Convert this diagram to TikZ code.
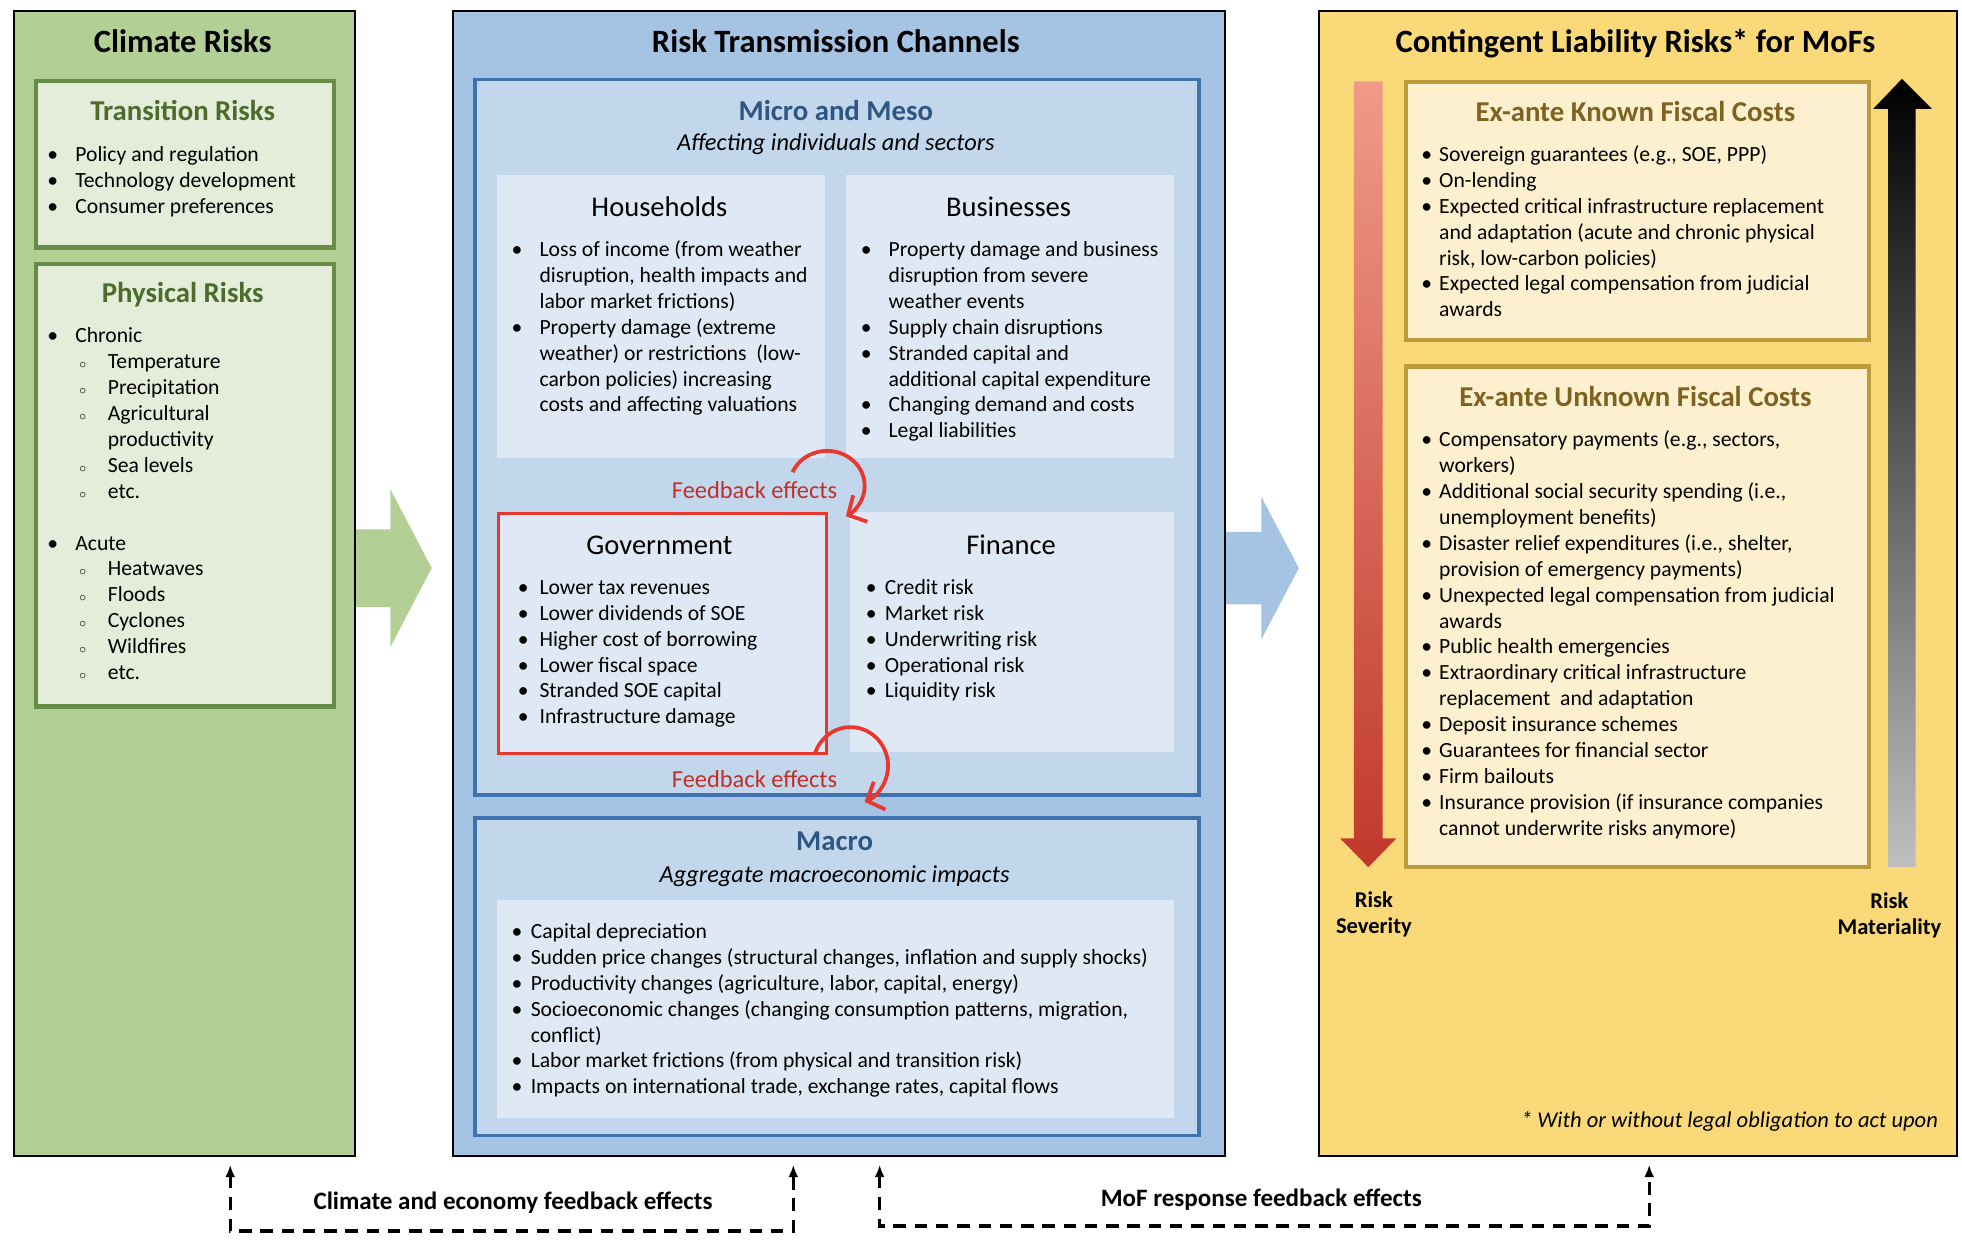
\documentclass[tikz,border=0pt]{standalone}
\usepackage{fontspec}
\setmainfont{Carlito}
\usetikzlibrary{arrows.meta,calc}

\definecolor{gpanel}{HTML}{B2CF95}
\definecolor{ginner}{HTML}{E3EDD9}
\definecolor{gborder}{HTML}{668C46}
\definecolor{gtitle}{HTML}{4C6B2C}
\definecolor{bpanel}{HTML}{A5C3E2}
\definecolor{binner}{HTML}{C2D7EC}
\definecolor{bborder}{HTML}{3F72AF}
\definecolor{bcell}{HTML}{DFE9F5}
\definecolor{btitle}{HTML}{2F5582}
\definecolor{fbred}{HTML}{E8382D}
\definecolor{fbtext}{HTML}{C0302A}
\definecolor{ypanel}{HTML}{F9D978}
\definecolor{yinner}{HTML}{FDF0CE}
\definecolor{yborder}{HTML}{BF9A3B}
\definecolor{ytitle}{HTML}{7E6222}
\definecolor{sevtop}{HTML}{F09A88}
\definecolor{sevbot}{HTML}{C0392B}

\newlength{\bd}
\newcommand{\itm}{\llap{\makebox[0pt][c]{\textbullet}\hspace{\bd}}}
\newcommand{\sitm}{\hspace*{26pt}\llap{\makebox[0pt][c]{\fontsize{11}{11}\selectfont$\circ$}\hspace{20pt}}}
\newcommand{\bodyf}{\fontsize{17.3}{20.7}\selectfont}
\newcommand{\mainf}{\fontsize{26}{30}\selectfont\bfseries}
\newcommand{\subf}{\fontsize{23}{27}\selectfont\bfseries}
\newcommand{\cellf}{\fontsize{22.8}{27}\selectfont}
\newcommand{\subtf}{\fontsize{19.5}{23}\selectfont\itshape}
\newcommand{\labf}{\fontsize{20}{24}\selectfont\bfseries}

\begin{document}
\begin{tikzpicture}[x=1pt,y=-1pt,
  panel/.style={draw=black, line width=1.8pt, anchor=north west, inner sep=0pt},
  gbox/.style={draw=gborder, fill=ginner, line width=3.5pt, anchor=north west, inner sep=0pt},
  bbox/.style={draw=bborder, fill=binner, line width=3pt, anchor=north west, inner sep=0pt},
  cell/.style={fill=bcell, anchor=north west, inner sep=0pt},
  ybox/.style={draw=yborder, fill=yinner, line width=3.5pt, anchor=north west, inner sep=0pt},
  lst/.style={anchor=base west, inner sep=0pt, font=\bodyf},
  ttl/.style={anchor=base, inner sep=0pt},
  fb/.style={draw=fbred, line width=3pt, -{Straight Barb[length=11pt,width=24pt,line width=3pt]}},
  dashcon/.style={line width=2.5pt, dash pattern=on 10pt off 7pt, {Latex[length=10pt,width=8pt]}-{Latex[length=10pt,width=8pt]}}
]
\useasboundingbox (0,0) rectangle (1568,992.6);

% ---------- block arrows ----------
\path[fill=gpanel] (280,423) -- (312,423) -- (312,391) -- (345,454) -- (312,517) -- (312,485) -- (280,485) -- cycle;
\path[fill=bpanel] (975,425) -- (1008,425) -- (1008,397) -- (1038,454) -- (1008,511) -- (1008,483) -- (975,483) -- cycle;

% ---------- panels ----------
\node[panel, fill=gpanel, minimum width=273pt, minimum height=915pt] (green) at (10,8) {};
\node[panel, fill=bpanel, minimum width=617pt, minimum height=915pt] (blue) at (361,8) {};
\node[panel, fill=ypanel, minimum width=510pt, minimum height=915pt] (yellow) at (1053,8) {};

\node[ttl, font=\mainf] (t1) at (146,42) {Climate Risks};
\node[ttl, font=\mainf] (t2) at (668,42) {Risk Transmission Channels};
\node[ttl, font=\mainf] (t3) at (1307,42) {Contingent Liability Risks* for MoFs};

% ---------- Climate risks ----------
\node[gbox, minimum width=238pt, minimum height=133pt] (trans) at (27,63) {};
\node[ttl, font=\subf, text=gtitle] (transT) at (146,96) {Transition Risks};
\setlength{\bd}{18pt}
\node[lst] (transL) at (60,129) {\begin{tabular}[t]{@{}l@{}}
\itm Policy and regulation\\
\itm Technology development\\
\itm Consumer preferences
\end{tabular}};

\node[gbox, minimum width=238pt, minimum height=354pt] (phys) at (27,209) {};
\node[ttl, font=\subf, text=gtitle] (physT) at (146,242) {Physical Risks};
\node[lst] (physL) at (60,274) {\begin{tabular}[t]{@{}l@{}}
\itm Chronic\\
\sitm Temperature\\
\sitm Precipitation\\
\sitm Agricultural\\
\hspace*{26pt}productivity\\
\sitm Sea levels\\
\sitm etc.\\
\\
\itm Acute\\
\sitm Heatwaves\\
\sitm Floods\\
\sitm Cyclones\\
\sitm Wildfires\\
\sitm etc.
\end{tabular}};

% ---------- Transmission channels ----------
\node[bbox, minimum width=579pt, minimum height=572pt] (micro) at (378,62) {};
\node[ttl, font=\subf, text=btitle] (microT) at (668,96) {Micro and Meso};
\node[ttl, font=\subtf] (microS) at (668,120) {Affecting individuals and sectors};

\node[cell, minimum width=262pt, minimum height=226pt] (hh) at (397,140) {};
\node[ttl, font=\cellf] (hhT) at (527,173) {Households};
\setlength{\bd}{18pt}
\node[lst] (hhL) at (431,205) {\begin{tabular}[t]{@{}l@{}}
\itm Loss of income (from weather\\
disruption, health impacts and\\
labor market frictions)\\
\itm Property damage (extreme\\
weather) or restrictions~ (low-\\
carbon policies) increasing\\
costs and affecting valuations
\end{tabular}};

\node[cell, minimum width=262pt, minimum height=226pt] (bus) at (676,140) {};
\node[ttl, font=\cellf] (busT) at (806,173) {Businesses};
\node[lst] (busL) at (710,205) {\begin{tabular}[t]{@{}l@{}}
\itm Property damage and business\\
disruption from severe\\
weather events\\
\itm Supply chain disruptions\\
\itm Stranded capital and\\
additional capital expenditure\\
\itm Changing demand and costs\\
\itm Legal liabilities
\end{tabular}};

\node[cell, draw=fbred, line width=2.5pt, minimum width=262pt, minimum height=192pt] (gov) at (397,409) {};
\node[ttl, font=\cellf] (govT) at (527,443) {Government};
\setlength{\bd}{13pt}
\node[lst] (govL) at (431,475) {\begin{tabular}[t]{@{}l@{}}
\itm Lower tax revenues\\
\itm Lower dividends of SOE\\
\itm Higher cost of borrowing\\
\itm Lower fiscal space\\
\itm Stranded SOE capital\\
\itm Infrastructure damage
\end{tabular}};

\node[cell, minimum width=259pt, minimum height=192pt] (fin) at (679,409) {};
\node[ttl, font=\cellf] (finT) at (808,443) {Finance};
\setlength{\bd}{11pt}
\node[lst] (finL) at (707,475) {\begin{tabular}[t]{@{}l@{}}
\itm Credit risk\\
\itm Market risk\\
\itm Underwriting risk\\
\itm Operational risk\\
\itm Liquidity risk
\end{tabular}};

% feedback arrows
\node[ttl, font=\fontsize{19.5}{23}\selectfont, text=fbtext] (fbT1) at (603,398) {Feedback effects};
\node[ttl, font=\fontsize{19.5}{23}\selectfont, text=fbtext] (fbT2) at (603,629) {Feedback effects};
\coordinate (fb1s) at ($(hh.south east)+(-26,11)$);
\coordinate (fb2s) at ($(gov.south east)+(-10,-2)$);
\draw[fb] (fb1s) arc[start angle=-157, end angle=60, x radius=30, y radius=28];
\draw[fb] (fb2s) arc[start angle=-160, end angle=68, x radius=30, y radius=31];

% Macro
\node[bbox, minimum width=579pt, minimum height=254pt] (macro) at (378,652) {};
\node[ttl, font=\subf, text=btitle] (macroT) at (667,680) {Macro};
\node[ttl, font=\subtf] (macroS) at (667,705) {Aggregate macroeconomic impacts};
\node[cell, minimum width=541pt, minimum height=174pt] (macroC) at (397,719) {};
\setlength{\bd}{11pt}
\node[lst] (macroL) at (424,750) {\begin{tabular}[t]{@{}l@{}}
\itm Capital depreciation\\
\itm Sudden price changes (structural changes, inflation and supply shocks)\\
\itm Productivity changes (agriculture, labor, capital, energy)\\
\itm Socioeconomic changes (changing consumption patterns, migration,\\
conflict)\\
\itm Labor market frictions (from physical and transition risk)\\
\itm Impacts on international trade, exchange rates, capital flows
\end{tabular}};

% ---------- Contingent liabilities ----------
\shade[top color=sevtop, bottom color=sevbot] (1082,65) -- (1105,65) -- (1105,670) -- (1116,670) -- (1093.5,693) -- (1071,670) -- (1082,670) -- cycle;
\shade[top color=black, bottom color=black!25] (1520,63) -- (1544,87) -- (1531,87) -- (1531,693) -- (1509,693) -- (1509,87) -- (1497,87) -- cycle;

\node[ybox, minimum width=370pt, minimum height=206pt] (known) at (1122,64) {};
\node[ttl, font=\subf, text=ytitle] (knownT) at (1307,97) {Ex-ante Known Fiscal Costs};
\setlength{\bd}{10pt}
\node[lst] (knownL) at (1150,129) {\begin{tabular}[t]{@{}l@{}}
\itm Sovereign guarantees (e.g., SOE, PPP)\\
\itm On-lending\\
\itm Expected critical infrastructure replacement\\
and adaptation (acute and chronic physical\\
risk, low-carbon policies)\\
\itm Expected legal compensation from judicial\\
awards
\end{tabular}};

\node[ybox, minimum width=370pt, minimum height=400pt] (unknown) at (1122,291) {};
\node[ttl, font=\subf, text=ytitle] (unknownT) at (1307,325) {Ex-ante Unknown Fiscal Costs};
\node[lst] (unknownL) at (1150,357) {\begin{tabular}[t]{@{}l@{}}
\itm Compensatory payments (e.g., sectors,\\
workers)\\
\itm Additional social security spending (i.e.,\\
unemployment benefits)\\
\itm Disaster relief expenditures (i.e., shelter,\\
provision of emergency payments)\\
\itm Unexpected legal compensation from judicial\\
awards\\
\itm Public health emergencies\\
\itm Extraordinary critical infrastructure\\
replacement~ and adaptation\\
\itm Deposit insurance schemes\\
\itm Guarantees for financial sector\\
\itm Firm bailouts\\
\itm Insurance provision (if insurance companies\\
cannot underwrite risks anymore)
\end{tabular}};

\node[anchor=base, inner sep=0pt, font=\fontsize{18}{20.7}\selectfont\bfseries, align=center] (sev) at (1098,746) {Risk\\Severity};
\node[anchor=base, inner sep=0pt, font=\fontsize{18}{20.7}\selectfont\bfseries, align=center] (mat) at (1510,747) {Risk\\Materiality};
\node[anchor=base east, inner sep=0pt, font=\fontsize{18}{22}\selectfont\itshape] (note) at (1549,901) {* With or without legal obligation to act upon};

% ---------- bottom feedback connectors ----------
\coordinate (c1a) at ($(green.south west)+(174,6)$);
\coordinate (c1b) at ($(blue.south west)+(273,6)$);
\coordinate (c2a) at ($(blue.south west)+(342,6)$);
\coordinate (c2b) at ($(yellow.south west)+(265,6)$);
\draw[dashcon] (c1a) -- ++(0,53) -| (c1b);
\draw[dashcon] (c2a) -- ++(0,49) -| (c2b);
\node[ttl, font=\labf] (lab1) at (410,967) {Climate and economy feedback effects};
\node[ttl, font=\labf] (lab2) at (1008,964) {MoF response feedback effects};
\end{tikzpicture}
\end{document}
